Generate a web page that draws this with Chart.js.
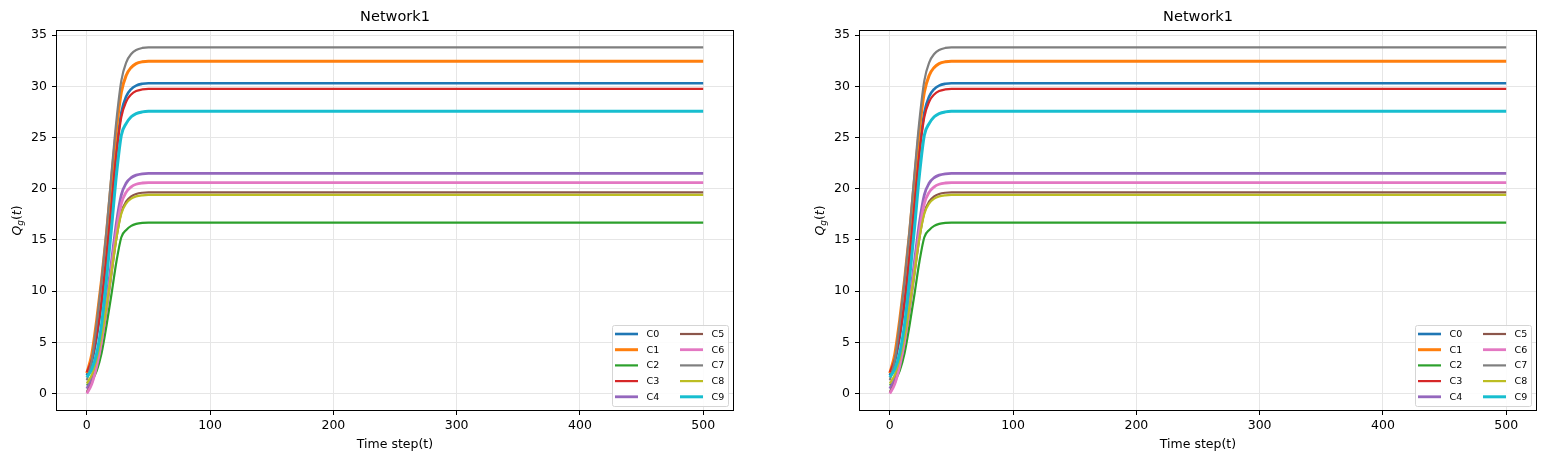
<!DOCTYPE html>
<html>
<head>
<meta charset="utf-8">
<script src="https://cdn.jsdelivr.net/npm/chart.js@4.4.0/dist/chart.umd.min.js"></script>
<style>
  html, body { margin: 0; padding: 0; background: #fff; }
  .panel { position: absolute; top: 0; width: 740px; height: 461px; }
</style>
</head>
<body>
<div class="panel" style="left:0"><canvas id="left"></canvas></div>
<div class="panel" style="left:803px"><canvas id="right"></canvas></div>
<script>
const timeSteps = [0, 4, 8, 12, 16, 20, 24, 28, 32, 36, 40, 45, 50, 60, 80, 500]

const c0 = [1.8, 3.08, 5.51, 8.93, 13.49, 18.62, 23.75, 27.45, 29.02, 29.73, 30.07, 30.24, 30.3, 30.3, 30.3, 30.3]
const c1 = [2.0, 3.83, 7.18, 11.14, 15.7, 20.88, 25.75, 29.41, 31.08, 31.84, 32.21, 32.39, 32.45, 32.45, 32.45, 32.45]
const c2 = [0.8, 1.28, 2.23, 3.98, 6.68, 9.7, 12.88, 15.27, 15.98, 16.38, 16.57, 16.67, 16.7, 16.7, 16.7, 16.7]
const c3 = [2.1, 3.34, 5.69, 9.01, 13.44, 18.41, 23.39, 26.99, 28.51, 29.2, 29.53, 29.69, 29.75, 29.75, 29.75, 29.75]
const c4 = [0.5, 1.45, 3.23, 5.75, 9.11, 12.89, 16.67, 19.4, 20.56, 21.08, 21.33, 21.46, 21.5, 21.5, 21.5, 21.5]
const c5 = [0.15, 1.03, 2.69, 5.03, 8.15, 11.66, 15.17, 17.7, 18.77, 19.26, 19.49, 19.61, 19.65, 19.65, 19.65, 19.65]
const c6 = [0.0, 0.93, 2.68, 5.15, 8.45, 12.15, 15.86, 18.54, 19.67, 20.19, 20.44, 20.56, 20.6, 20.6, 20.6, 20.6]
const c7 = [1.3, 3.25, 6.83, 11.05, 15.93, 21.45, 26.65, 30.55, 32.34, 33.15, 33.54, 33.74, 33.8, 33.8, 33.8, 33.8]
const c8 = [1.0, 1.83, 3.39, 5.6, 8.54, 11.86, 15.17, 17.56, 18.57, 19.03, 19.25, 19.36, 19.4, 19.4, 19.4, 19.4]
const c9 = [1.6, 2.38, 3.94, 6.79, 11.2, 16.13, 21.32, 25.21, 26.38, 27.03, 27.34, 27.5, 27.55, 27.55, 27.55, 27.55]

const seriesValues = [c0, c1, c2, c3, c4, c5, c6, c7, c8, c9]
const seriesNames = ['C0', 'C1', 'C2', 'C3', 'C4', 'C5', 'C6', 'C7', 'C8', 'C9']
const seriesColors = ['#1f77b4', '#ff7f0e', '#2ca02c', '#d62728', '#9467bd',
                      '#8c564b', '#e377c2', '#7f7f7f', '#bcbd22', '#17becf']
const lineWidths = [2.6, 3, 2.2, 2.2, 2.8, 2.2, 2.8, 2.2, 2.2, 3]

const xTicks = [0, 100, 200, 300, 400, 500]
const yTicks = [0, 5, 10, 15, 20, 25, 30, 35]

const chartTitle = 'Network1'
const xLabel = 'Time step(t)'

const FONT = '"DejaVu Sans", sans-serif'

// spines, title, axis labels and the 2-column legend
const decor = {
    id: 'decor',
    afterDatasetsDraw(chart) {
        const ctx = chart.ctx
        const a = chart.chartArea
        const cx = (a.left + a.right) / 2
        ctx.save()

        ctx.strokeStyle = '#000'
        ctx.lineWidth = 1
        ctx.strokeRect(Math.round(a.left) + 0.5, Math.round(a.top) + 0.5,
                       Math.round(a.right - a.left) - 1, Math.round(a.bottom - a.top) - 1)

        ctx.fillStyle = '#000'
        ctx.textAlign = 'center'
        ctx.textBaseline = 'alphabetic'
        ctx.font = '14.5px ' + FONT
        ctx.fillText(chartTitle, cx, 20.5)

        ctx.font = '12.5px ' + FONT
        ctx.fillText(xLabel, cx, 447.5)

        // y label: Q_g(t)
        const parts = [
            { t: 'Q', f: 'italic 12.5px ' + FONT, dy: 0 },
            { t: 'g', f: 'italic 9px ' + FONT, dy: 2.5 },
            { t: '(', f: '12.5px ' + FONT, dy: 0 },
            { t: 't', f: 'italic 12.5px ' + FONT, dy: 0 },
            { t: ')', f: '12.5px ' + FONT, dy: 0 },
        ]
        let total = 0
        parts.forEach(p => { ctx.font = p.f; p.w = ctx.measureText(p.t).width; total += p.w })
        ctx.translate(20.5, (a.top + a.bottom) / 2)
        ctx.rotate(-Math.PI / 2)
        ctx.textAlign = 'left'
        let px = -total / 2
        parts.forEach(p => { ctx.font = p.f; ctx.fillText(p.t, px, p.dy); px += p.w })
        ctx.setTransform(1, 0, 0, 1, 0, 0)

        // legend
        const bw = 116, bh = 81
        const bx = Math.round(a.right - 6 - bw) + 0.5
        const by = Math.round(a.bottom - 5.5 - bh) + 0.5
        ctx.beginPath()
        ctx.roundRect(bx, by, bw, bh, 2)
        ctx.fillStyle = 'rgba(255,255,255,0.85)'
        ctx.fill()
        ctx.strokeStyle = '#d5d5d5'
        ctx.lineWidth = 1
        ctx.stroke()

        ctx.font = '9.5px ' + FONT
        ctx.textBaseline = 'middle'
        chart.data.datasets.forEach((ds, i) => {
            const col = Math.floor(i / 5)
            const row = i % 5
            const lx = bx + 2.5 + col * 65
            const ly = by + 8.5 + row * 15.7
            ctx.strokeStyle = ds.borderColor
            ctx.lineWidth = ds.borderWidth
            ctx.beginPath()
            ctx.moveTo(lx, ly)
            ctx.lineTo(lx + 23, ly)
            ctx.stroke()
            ctx.fillStyle = '#000'
            ctx.fillText(ds.label, lx + 31.5, ly + 0.5)
        })
        ctx.restore()
    }
}

const makeChart = (id) => {
    const datasets = seriesValues.map((vals, i) => ({
        label: seriesNames[i],
        data: timeSteps.map((t, j) => ({ x: t, y: vals[j] })),
        borderColor: seriesColors[i],
        backgroundColor: seriesColors[i],
        borderWidth: lineWidths[i],
        pointRadius: 0,
        fill: false,
        cubicInterpolationMode: 'monotone',
        order: seriesValues.length - i,
    }))

    const axisStyle = {
        grid: { color: '#e6e6e6', lineWidth: 1, tickColor: '#000', tickLength: 4 },
        border: { display: false },
        ticks: { color: '#000', font: { family: FONT, size: 12.5 } },
    }

    return new Chart(document.getElementById(id), {
        type: 'line',
        data: { datasets },
        options: {
            responsive: true,
            maintainAspectRatio: false,
            animation: false,
            layout: { padding: { top: 30, right: 6, left: 0, bottom: 0 } },
            plugins: { legend: { display: false }, title: { display: false }, tooltip: { enabled: false } },
            scales: {
                x: {
                    type: 'linear', min: -25, max: 525,
                    ...axisStyle,
                    ticks: { ...axisStyle.ticks, padding: 3 },
                    afterBuildTicks: s => { s.ticks = xTicks.map(v => ({ value: v })) },
                    afterFit: s => { s.height = 50 },
                },
                y: {
                    type: 'linear', min: -1.69, max: 35.49,
                    ...axisStyle,
                    ticks: { ...axisStyle.ticks, padding: 5 },
                    afterBuildTicks: s => { s.ticks = yTicks.map(v => ({ value: v })) },
                    afterFit: s => { s.width = 56 },
                },
            },
        },
        plugins: [decor],
    })
}

makeChart('left')
makeChart('right')
</script>
</body>
</html>
